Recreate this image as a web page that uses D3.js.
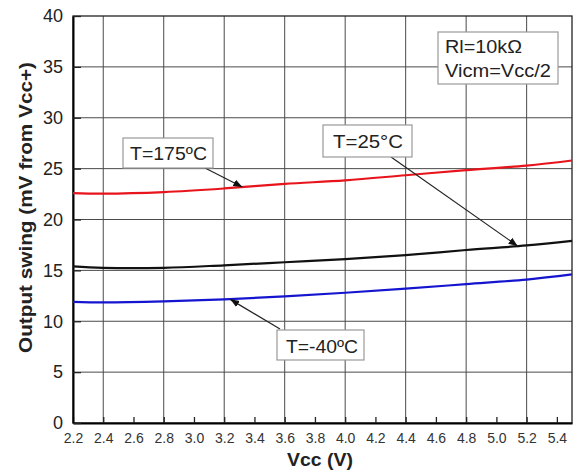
<!DOCTYPE html>
<html><head><meta charset="utf-8">
<script src="https://cdn.jsdelivr.net/npm/d3@7"></script>
<style>body{margin:0;background:#fff}svg{display:block}</style>
</head><body>
<svg id="c" width="576" height="472"></svg>
<script>
const vcc = [2.2, 2.4, 2.8, 3.2, 3.6, 4.0, 4.4, 4.8, 5.2, 5.5];
const t175 = [22.6, 22.55, 22.7, 23.05, 23.5, 23.85, 24.35, 24.85, 25.3, 25.8];
const t25  = [15.4, 15.25, 15.25, 15.5, 15.8, 16.1, 16.5, 17.0, 17.45, 17.9];
const tm40 = [11.9, 11.85, 11.95, 12.15, 12.45, 12.8, 13.2, 13.65, 14.1, 14.6];
const xTicks = [2.2,2.4,2.6,2.8,3.0,3.2,3.4,3.6,3.8,4.0,4.2,4.4,4.6,4.8,5.0,5.2,5.4];
const xGrid = [2.4,2.8,3.2,3.6,4.0,4.4,4.8,5.2];
const yTicks = [0,5,10,15,20,25,30,35,40];

const font='Liberation Sans, Arial, sans-serif';
const svg = d3.select('#c');
const L=73, R=572, T=16, B=423;
const x = d3.scaleLinear().domain([2.2,5.5]).range([L,R]);
const y = d3.scaleLinear().domain([0,40]).range([B,T]);

// grid
svg.append('g').selectAll('line').data(xGrid).join('line')
  .attr('x1',d=>x(d)).attr('x2',d=>x(d)).attr('y1',T).attr('y2',B)
  .attr('stroke','#4a4a4a').attr('stroke-width',1);
svg.append('g').selectAll('line').data(yTicks.slice(1,-1)).join('line')
  .attr('y1',d=>y(d)).attr('y2',d=>y(d)).attr('x1',L).attr('x2',R)
  .attr('stroke','#4a4a4a').attr('stroke-width',1);

// frame
svg.append('rect').attr('x',L).attr('y',T).attr('width',R-L).attr('height',B-T)
  .attr('fill','none').attr('stroke','#222').attr('stroke-width',1.3);

// axes
const xa = svg.append('g').attr('transform',`translate(0,${B})`)
  .call(d3.axisBottom(x).tickValues(xTicks).tickSizeInner(-6).tickSizeOuter(0).tickPadding(10).tickFormat(d3.format('.1f')));
xa.select('.domain').attr('stroke','#000').attr('stroke-width',2);
xa.selectAll('.tick line').attr('stroke','#222').attr('stroke-width',1.3);
xa.selectAll('text').attr('font-family',font).attr('font-size',14).attr('fill','#333');

const ya = svg.append('g').attr('transform',`translate(${L},0)`)
  .call(d3.axisLeft(y).tickValues(yTicks).tickSizeInner(-8).tickSizeOuter(0).tickPadding(10));
ya.select('.domain').attr('stroke','#000').attr('stroke-width',2);
ya.selectAll('.tick line').attr('stroke','#222').attr('stroke-width',1.3);
ya.selectAll('text').attr('font-family',font).attr('font-size',18).attr('fill','#222');

// titles
svg.append('text').attr('x',287).attr('y',466)
  .attr('font-family',font).attr('font-weight','bold').attr('font-size',19)
  .attr('textLength',66).attr('lengthAdjust','spacingAndGlyphs')
  .attr('fill','#222').text('Vcc (V)');
svg.append('text').attr('transform','translate(32,353) rotate(-90)')
  .attr('font-family',font).attr('font-weight','bold').attr('font-size',18)
  .attr('textLength',291).attr('lengthAdjust','spacingAndGlyphs')
  .attr('fill','#222').text('Output swing (mV from Vcc+)');

// curves
const line = d3.line().x((d,i)=>x(vcc[i])).y(d=>y(d)).curve(d3.curveCatmullRom.alpha(0.5));
[[t175,'#e8141c'],[t25,'#111'],[tm40,'#1515d0']].forEach(([s,c])=>{
  svg.append('path').attr('d',line(s)).attr('fill','none').attr('stroke',c).attr('stroke-width',2.2);
});

// arrow marker
svg.append('defs').append('marker').attr('id','ah').attr('viewBox','0 0 10 10')
  .attr('refX',10).attr('refY',5).attr('markerWidth',9).attr('markerHeight',9)
  .attr('markerUnits','userSpaceOnUse').attr('orient','auto')
  .append('path').attr('d','M0,1 L10,5 L0,9 Z').attr('fill','#111');

function label(bx,by,bw,bh,lines,ax1,ay1,vx,vy){
  if(ax1!=null){
    svg.append('line').attr('x1',ax1).attr('y1',ay1).attr('x2',x(vx)).attr('y2',y(vy))
      .attr('stroke','#222').attr('stroke-width',1.2).attr('marker-end','url(#ah)');
  }
  svg.append('rect').attr('x',bx).attr('y',by).attr('width',bw).attr('height',bh)
    .attr('fill','#fff').attr('stroke','#999').attr('stroke-width',1.2);
  lines.forEach(([t,tx,ty,tw])=>{
    svg.append('text').attr('x',tx).attr('y',ty).attr('font-family',font)
      .attr('font-size',19).attr('textLength',tw).attr('lengthAdjust','spacingAndGlyphs')
      .attr('fill','#222').text(t);
  });
}
label(123,138,90,30,[['T=175\u00BAC',130,160,77]],205,168,3.32,23.2);
label(323,125,89,32,[['T=25\u00B0C',333,148,70]],391,157,5.14,17.4);
label(277,330,87,30,[['T=-40\u00BAC',286,353,72]],280,329,3.24,12.15);
label(438,32,120,52,[['Rl=10k\u03A9',445,53,77],['Vicm=Vcc/2',445,77,106]],null);
</script>
</body></html>
